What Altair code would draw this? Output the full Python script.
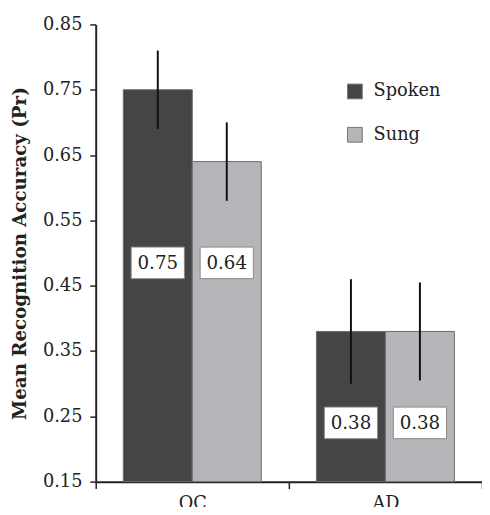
import altair as alt
import pandas as pd

groups = ["OC", "OC", "AD", "AD"]
conditions = ["Spoken", "Sung", "Spoken", "Sung"]
means = [0.75, 0.64, 0.38, 0.38]
err_lo = [0.69, 0.58, 0.30, 0.305]
err_hi = [0.81, 0.70, 0.46, 0.455]
label_pos = [0.485, 0.485, 0.24, 0.24]
labels = ["0.75", "0.64", "0.38", "0.38"]
y_ticks = [0.15, 0.25, 0.35, 0.45, 0.55, 0.65, 0.75, 0.85]

df = pd.DataFrame({
    "group": groups, "condition": conditions, "mean": means,
    "lo": err_lo, "hi": err_hi, "lpos": label_pos, "label": labels,
})

FONT = "DejaVu Serif"
colors = ["#454547", "#b4b5b8"]

x = alt.X("group:N", sort=["OC", "AD"],
          scale=alt.Scale(paddingInner=0, paddingOuter=0),
          axis=alt.Axis(title=None, tickBand="extent", labelAngle=0,
                        labelFont=FONT, labelFontSize=18, labelColor="#222",
                        labelPadding=6, tickSize=7, tickColor="#222",
                        tickWidth=1.5, domainColor="#222", domainWidth=2))
xo = alt.XOffset("condition:N", scale=alt.Scale(paddingOuter=0.4, paddingInner=0))
yscale = alt.Scale(domain=[0.15, 0.85], zero=False, nice=False)

bars = alt.Chart(df).mark_bar(stroke="#6a6a6a", strokeWidth=1).encode(
    x=x, xOffset=xo,
    y=alt.Y("mean:Q", scale=yscale,
            axis=alt.Axis(values=y_ticks, format=".2f", grid=False,
                          title="Mean Recognition Accuracy (Pr)",
                          titleFont=FONT, titleFontSize=18.5, titleFontWeight="bold",
                          titleColor="#222", titlePadding=13,
                          labelFont=FONT, labelFontSize=18, labelColor="#222",
                          labelPadding=8, tickSize=6, tickColor="#222",
                          tickWidth=1.5, domainColor="#222", domainWidth=2)),
    y2=alt.datum(0.15),
    color=alt.Color("condition:N", scale=alt.Scale(domain=["Spoken", "Sung"], range=colors),
                    legend=alt.Legend(title=None, orient="none", legendX=254, legendY=59,
                                      symbolType="square", symbolSize=225,
                                      symbolStrokeColor="#777", symbolStrokeWidth=1,
                                      labelFont=FONT, labelFontSize=18, labelColor="#222",
                                      labelOffset=10, rowPadding=24, padding=0)),
)

errs = alt.Chart(df).mark_rule(color="#111", strokeWidth=2).encode(
    x=x, xOffset=xo, y=alt.Y("lo:Q", scale=yscale), y2="hi:Q")

boxes = alt.Chart(df).mark_point(
    shape="M-1,-0.593L1,-0.593L1,0.593L-1,0.593Z", size=2916,
    filled=True, fill="white", stroke="#888", strokeWidth=1, opacity=1).encode(
    x=x, xOffset=xo, y=alt.Y("lpos:Q", scale=yscale))

texts = alt.Chart(df).mark_text(font=FONT, fontSize=18.5, color="#222", baseline="middle").encode(
    x=x, xOffset=xo, y=alt.Y("lpos:Q", scale=yscale), text="label:N")

chart = alt.layer(bars, errs, boxes, texts).properties(
    width=392, height=464,
    autosize=alt.AutoSizeParams(type="none"),
    padding={"left": 89, "top": 13, "right": 0, "bottom": 22},
).configure_view(stroke=None)

chart.save("out.html", embed_options={"renderer": "svg", "actions": False})
